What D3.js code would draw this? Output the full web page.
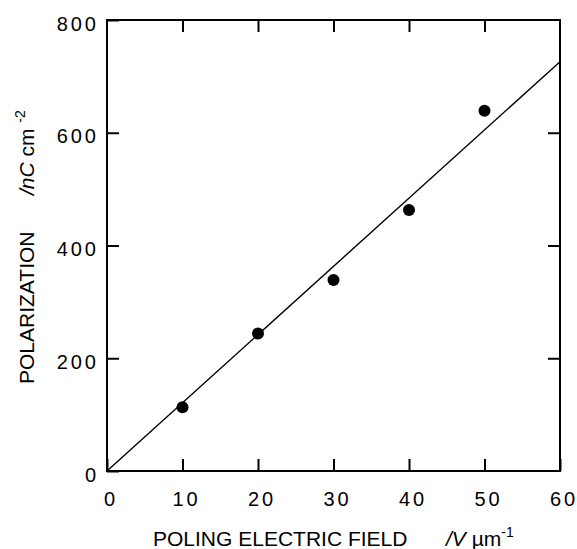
<!DOCTYPE html>
<html>
<head>
<meta charset="utf-8">
<script src="https://cdn.jsdelivr.net/npm/d3@7"></script>
<style>
  html, body { margin: 0; padding: 0; background: #fff; }
  svg { display: block; }
  text { font-family: "Liberation Sans", Arial, Helvetica, sans-serif; fill: #000; }
</style>
</head>
<body>
<svg id="chart" width="577" height="549"></svg>
<script>
// Measured polarization vs. poling field
const fieldValues = [10, 20, 30, 40, 50];            // V/µm
const polarizationValues = [113, 244, 339, 463, 639]; // nC/cm²

// Straight-line fit through the origin
const fitX = [0, 60];
const fitY = [0, 726];

const xTicks = [0, 10, 20, 30, 40, 50, 60];
const yTicks = [0, 200, 400, 600, 800];

const svg = d3.select("#chart");
const plotLeft = 107, plotRight = 560, plotTop = 20, plotBottom = 471;

const x = d3.scaleLinear().domain([0, 60]).range([plotLeft, plotRight]);
const y = d3.scaleLinear().domain([0, 800]).range([plotBottom, plotTop]);

const tickLen = 12;

// Axes with inward ticks on all four sides
function styleAxis(g) {
  g.select(".domain").remove();
  g.selectAll(".tick line").attr("stroke", "#000").attr("stroke-width", 2);
}

svg.append("g")
  .attr("transform", `translate(0,${plotBottom})`)
  .call(d3.axisBottom(x).tickValues(xTicks).tickSizeInner(-tickLen).tickSizeOuter(0))
  .call(styleAxis)
  .call(g => g.selectAll(".tick text")
    .attr("font-size", 20).attr("letter-spacing", "3px")
    .attr("y", 35).attr("dy", 0).attr("dx", 3.5));

svg.append("g")
  .attr("transform", `translate(0,${plotTop})`)
  .call(d3.axisTop(x).tickValues(xTicks.slice(1, -1)).tickSizeInner(-tickLen).tickSizeOuter(0).tickFormat(""))
  .call(styleAxis);

svg.append("g")
  .attr("transform", `translate(${plotLeft},0)`)
  .call(d3.axisLeft(y).tickValues(yTicks).tickSizeInner(-tickLen).tickSizeOuter(0))
  .call(styleAxis)
  .call(g => g.selectAll(".tick text")
    .attr("font-size", 20).attr("letter-spacing", "3px")
    .attr("x", -8).attr("dy", 10));

svg.append("g")
  .attr("transform", `translate(${plotRight},0)`)
  .call(d3.axisRight(y).tickValues(yTicks.slice(1, -1)).tickSizeInner(-tickLen).tickSizeOuter(0).tickFormat(""))
  .call(styleAxis);

// Frame
svg.append("rect")
  .attr("x", x(0)).attr("y", y(800))
  .attr("width", x(60) - x(0)).attr("height", y(0) - y(800))
  .attr("fill", "none").attr("stroke", "#000").attr("stroke-width", 2);

// Fit line
const fitPts = fitX.map((v, i) => [v, fitY[i]]);
svg.append("path")
  .datum(fitPts)
  .attr("d", d3.line().x(d => x(d[0])).y(d => y(d[1])))
  .attr("fill", "none").attr("stroke", "#000").attr("stroke-width", 1.4);

// Data points
svg.append("g").selectAll("circle")
  .data(fieldValues.map((v, i) => [v, polarizationValues[i]]))
  .join("circle")
  .attr("cx", d => x(d[0])).attr("cy", d => y(d[1]))
  .attr("r", 6).attr("fill", "#000");

// X axis title
const xt = svg.append("text").attr("x", 153).attr("y", 546).attr("font-size", 21);
xt.append("tspan").text("POLING ELECTRIC FIELD");
xt.append("tspan").attr("x", 446).attr("font-style", "italic").text("/V");
xt.append("tspan").text(" \u00b5m");
xt.append("tspan").attr("font-size", 14).attr("dy", -9).text("-1");

// Y axis title
const yt = svg.append("text").attr("transform", "translate(34,384) rotate(-90)").attr("font-size", 21);
yt.append("tspan").text("POLARIZATION");
const yt2 = svg.append("text").attr("transform", "translate(34,195) rotate(-90)").attr("font-size", 21);
yt2.append("tspan").attr("font-style", "italic").text("/nC");
yt2.append("tspan").text(" cm ");
yt2.append("tspan").attr("font-size", 14).attr("dy", -9).text("-2");
</script>
</body>
</html>
